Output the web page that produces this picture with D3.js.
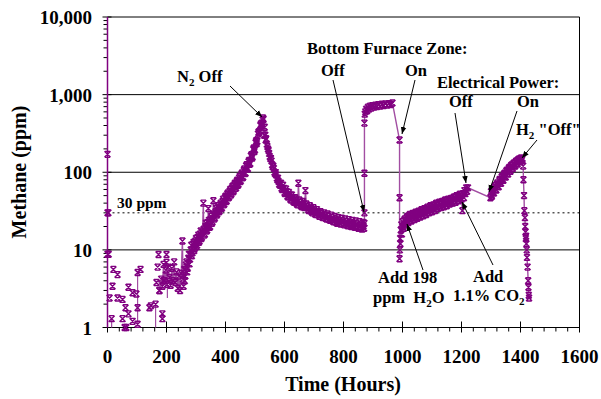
<!DOCTYPE html>
<html>
<head>
<meta charset="utf-8">
<script src="https://cdn.jsdelivr.net/npm/d3@7"></script>
<style>
  body { margin: 0; background: #fff; }
  svg { display: block; }
  text { font-family: "Liberation Serif", "Times New Roman", serif; font-weight: bold; fill: #000; }
</style>
</head>
<body>
<svg id="chart" width="601" height="399"></svg>
<script>
// DATA (hours, ppm)
const yTicks = [1, 10, 100, 1000, 10000];
const yTickLabels = ["1", "10", "100", "1,000", "10,000"];
const xTicks = [0, 200, 400, 600, 800, 1000, 1200, 1400, 1600];

// t = 0 readings run up the axis
const startup = [[0, 1], [0, 8.8], [0, 30], [0, 170], [0, 10000]];

// scattered low readings in the first 200 hours
const early = [[3, 30], [4, 8.8], [7, 2.4], [14, 1.3], [20, 5.6], [34, 4.8], [17, 3.4], [34, 2.4],
  [51, 2.3], [61, 1.8], [71, 1.5], [58, 1.0], [71, 3.3], [85, 2.8], [98, 2.7], [102, 5.1],
  [112, 5.6], [102, 1.8], [102, 1.1], [51, 1.3], [85, 1.2], [64, 1.0], [142, 1.8], [147, 1.9],
  [163, 2.0], [186, 1.5], [186, 1.3], [173, 8.7], [200, 8.7], [176, 3.0], [190, 4.0], [200, 6.9],
  [166, 3.8], [170, 6.0]];
const earlyLinks = [[14, 1.0, 1.3], [102, 1.1, 5.1], [163, 1.0, 2.0], [203, 2.4, 3.6]];

const ramp = [[176, 3.0], [182, 4.2], [186, 3.4], [190, 6.5], [194, 4.0], [198, 5.5], [202, 3.6],
  [206, 6.0], [210, 4.4], [214, 3.5], [218, 5.8], [222, 4.0], [226, 7.0], [230, 3.8], [234, 5.2],
  [238, 3.2], [242, 4.6], [246, 3.0], [250, 5.0], [254, 13], [256, 4.2], [258, 3.4], [260, 5.6],
  [262, 4.0], [264, 4.6], [266, 6.4], [268, 7.0], [270, 5.2], [272, 5.8], [274, 7.8], [276, 8.8],
  [278, 6.6], [280, 7.6], [282, 10], [284, 11.5], [286, 8.4], [288, 9.2], [290, 11.8], [292, 12.5],
  [294, 9.8], [296, 10.5], [298, 13], [300, 14], [302, 11], [304, 11.5], [306, 14.5], [308, 15.5],
  [310, 12.5], [312, 13], [314, 16], [316, 17.5], [318, 14], [320, 14.5], [322, 17], [325, 40],
  [326, 18.5], [328, 15.5], [330, 16], [332, 20], [334, 22], [336, 17.5], [338, 18], [340, 22.5],
  [342, 34], [344, 24], [346, 19.5], [348, 20], [350, 25], [352, 27], [354, 22], [356, 23],
  [358, 28], [359, 43], [360, 29], [362, 25], [364, 26], [366, 31], [368, 34], [370, 28], [372, 29],
  [374, 35], [376, 37], [378, 31], [380, 32], [382, 38], [384, 40], [386, 34], [388, 35], [390, 42],
  [392, 45], [394, 38], [396, 39], [398, 47], [400, 49], [402, 42], [404, 43], [406, 52], [408, 54],
  [410, 47], [412, 48], [414, 57], [416, 60], [418, 51], [420, 53], [422, 63], [424, 66], [426, 56],
  [428, 58], [430, 69], [432, 72], [434, 62], [436, 63], [438, 76], [440, 79], [442, 68], [444, 70],
  [446, 84], [448, 88], [450, 76], [452, 78], [454, 94], [456, 98], [458, 85], [460, 87], [462, 105],
  [464, 110], [466, 96], [468, 98], [470, 120], [472, 125], [474, 110], [476, 112], [478, 137],
  [480, 142], [482, 127], [484, 130], [486, 162], [488, 168], [490, 152], [492, 158], [494, 196],
  [496, 205], [498, 185], [500, 195], [502, 240], [504, 255], [506, 235], [508, 250], [510, 310],
  [512, 330], [514, 320], [516, 340], [518, 400], [520, 420], [522, 400], [524, 430], [526, 470],
  [527, 500]];

const decay = [[529, 480], [531, 300], [533, 380], [535, 300], [536, 260], [538, 270], [540, 230],
  [542, 215], [544, 200], [546, 190], [548, 175], [550, 160], [552, 150], [554, 150], [556, 140],
  [558, 125], [560, 118], [562, 120], [564, 112], [566, 100], [568, 96], [570, 99], [572, 92],
  [574, 84], [576, 80], [578, 84], [580, 76], [582, 70], [585, 68], [588, 72], [590, 62], [592, 60],
  [595, 68], [598, 62], [600, 55], [602, 53], [605, 61], [608, 56], [610, 49], [612, 48], [615, 55],
  [618, 51], [620, 45], [622, 44], [625, 51], [628, 47], [630, 42], [633, 41], [636, 47], [639, 44],
  [642, 39], [645, 38], [647, 72], [650, 44], [653, 41], [656, 37], [659, 36], [662, 42], [665, 39],
  [668, 35], [671, 58], [674, 39], [677, 36], [680, 33], [683, 32], [686, 37], [689, 34], [692, 31],
  [695, 30], [698, 35], [701, 33], [704, 29], [707, 28.5], [710, 33], [713, 31], [716, 28],
  [719, 27], [722, 31], [725, 29.5], [728, 26.5], [731, 26], [734, 30], [737, 28], [740, 25.5],
  [743, 25], [746, 29], [749, 27], [752, 24.5], [755, 24], [758, 28], [761, 26], [764, 23.5],
  [767, 23], [770, 27], [773, 25], [776, 22.5], [779, 22], [782, 26], [785, 24], [788, 22],
  [791, 21.5], [794, 25.5], [797, 23.5], [800, 21.5], [803, 21], [806, 25], [809, 23], [812, 21],
  [815, 20.5], [818, 24.5], [821, 22.5], [824, 20.5], [827, 20], [830, 24], [833, 22], [836, 20],
  [839, 19.5], [842, 23.5], [845, 21.5], [848, 19.5], [851, 19], [854, 23], [857, 21], [860, 19],
  [863, 18.5], [866, 22.5], [868, 20.5], [870, 19]];

// bottom furnace zone off / on
const furnace = [[871, 22], [871, 30], [871, 97], [871, 430], [872, 560], [874, 600], [877, 650],
  [880, 620], [883, 690], [886, 650], [890, 710], [894, 670], [898, 720], [903, 690], [908, 730],
  [913, 700], [918, 740], [924, 715], [930, 750], [936, 725], [942, 760], [948, 735], [954, 765],
  [960, 745], [966, 780], [990, 260], [990, 47], [990, 7.7]];

const recovery = [[991, 10], [992, 14], [993, 12], [994, 18], [996, 21], [998, 16], [1000, 23],
  [1002, 20], [1004, 19], [1006, 24], [1008, 25], [1010, 21.5], [1012, 21], [1014, 26], [1016, 27],
  [1018, 23], [1020, 22.5], [1022, 27.5], [1025, 28.5], [1028, 24], [1030, 23.5], [1033, 28.5],
  [1035, 29.5], [1038, 25], [1040, 24.5], [1043, 29.5], [1045, 30.5], [1048, 26], [1050, 25.5],
  [1053, 30.5], [1055, 31.5], [1058, 27], [1060, 26.5], [1063, 32], [1065, 33], [1068, 28],
  [1070, 27.5], [1073, 33], [1075, 34], [1078, 29], [1080, 28.5], [1083, 34.5], [1085, 35.5],
  [1088, 30.5], [1090, 30], [1093, 36], [1095, 37], [1098, 31.5], [1100, 31], [1103, 37],
  [1105, 38], [1108, 32.5], [1110, 32], [1113, 39], [1115, 40], [1118, 34.5], [1120, 34],
  [1123, 40], [1125, 41], [1128, 35.5], [1130, 35], [1133, 41], [1135, 42], [1138, 36.5],
  [1140, 36], [1143, 43], [1145, 44], [1148, 37.5], [1150, 37], [1153, 44], [1155, 45], [1158, 39.5],
  [1160, 39], [1163, 45], [1165, 46], [1168, 40.5], [1170, 40], [1173, 47], [1175, 48], [1178, 41.5],
  [1180, 41], [1183, 49], [1185, 50], [1188, 43.5], [1190, 43], [1193, 51], [1195, 52], [1198, 45.5],
  [1200, 45], [1203, 32], [1205, 53], [1208, 47], [1210, 58], [1213, 53], [1216, 63], [1219, 57],
  [1222, 63]];

// electrical power off / on, then H2 "off"
const power = [[1298, 47], [1300, 56], [1302, 51], [1303, 49], [1305, 58], [1306, 61], [1308, 55],
  [1310, 54], [1312, 64], [1314, 67], [1316, 60], [1318, 59], [1320, 70], [1322, 73], [1324, 66],
  [1326, 65], [1328, 78], [1330, 81], [1332, 73], [1334, 72], [1336, 86], [1338, 89], [1340, 80],
  [1342, 79], [1344, 94], [1346, 97], [1348, 88], [1350, 87], [1352, 103], [1354, 106], [1356, 96],
  [1358, 95], [1360, 112], [1362, 115], [1364, 104], [1366, 103], [1368, 121], [1370, 124],
  [1372, 113], [1374, 112], [1376, 129], [1378, 132], [1380, 121], [1382, 120], [1384, 137],
  [1386, 140], [1388, 129], [1390, 128], [1392, 144], [1394, 147], [1396, 137], [1398, 136],
  [1400, 150], [1402, 153], [1404, 144], [1405, 143], [1407, 150], [1409, 120], [1410, 80],
  [1412, 50], [1413, 32], [1415, 26], [1416, 20], [1417, 17], [1418, 14], [1419, 15], [1420, 12],
  [1421, 10], [1422, 8], [1424, 6], [1426, 4], [1427, 3.3], [1428, 2.6], [1429, 2.4]];

const mainSeries = [...ramp, ...decay, ...furnace, ...recovery, ...power];

// LAYOUT
const svg = d3.select("#chart");
const plotL = 107.5, plotR = 579.5, plotT = 17, plotB = 327.5;
const x = d3.scaleLinear().domain([0, 1600]).range([plotL, plotR]);
const y = d3.scaleLog().domain([1, 10000]).range([plotB, plotT]);
const purple = "#800080";
const linePurple = "#a24ea2";

// gridlines + frame
svg.append("g").selectAll("line").data([10, 100, 1000, 10000]).join("line")
  .attr("x1", plotL).attr("x2", plotR)
  .attr("y1", d => y(d)).attr("y2", d => y(d))
  .attr("stroke", "#000").attr("stroke-width", 1);
svg.append("line").attr("x1", plotR).attr("x2", plotR).attr("y1", plotT).attr("y2", plotB)
  .attr("stroke", "#000");

// 30 ppm dotted line
svg.append("line").attr("x1", plotL).attr("x2", plotR)
  .attr("y1", y(30)).attr("y2", y(30))
  .attr("stroke", "#000").attr("stroke-dasharray", "2,3");
svg.append("text").attr("x", 117).attr("y", 208).attr("font-size", 15.5).text("30 ppm");

// axes
const yMinor = [];
for (let d = 1; d < 10000; d *= 10) for (let k = 2; k <= 9; k++) yMinor.push(d * k);
svg.append("g").selectAll("line").data(yMinor).join("line")
  .attr("x1", plotL - 4).attr("x2", plotL)
  .attr("y1", d => y(d)).attr("y2", d => y(d)).attr("stroke", "#000");
svg.append("g").selectAll("line").data(yTicks).join("line")
  .attr("x1", plotL - 5).attr("x2", plotL + 4)
  .attr("y1", d => y(d)).attr("y2", d => y(d)).attr("stroke", "#000");
svg.append("g").selectAll("text").data(yTicks).join("text")
  .attr("x", 92).attr("y", d => y(d) + 7).attr("text-anchor", "end").attr("font-size", 19)
  .text((d, i) => yTickLabels[i]);

svg.append("g").selectAll("line").data(d3.range(0, 1601, 40)).join("line")
  .attr("x1", d => x(d)).attr("x2", d => x(d))
  .attr("y1", plotB).attr("y2", plotB + 4).attr("stroke", "#000");
svg.append("g").selectAll("line").data(xTicks).join("line")
  .attr("x1", d => x(d)).attr("x2", d => x(d))
  .attr("y1", plotB - 6).attr("y2", plotB + 5).attr("stroke", "#000");
svg.append("g").selectAll("text").data(xTicks).join("text")
  .attr("x", d => x(d)).attr("y", 363).attr("text-anchor", "middle").attr("font-size", 19)
  .text(d => d);

svg.append("line").attr("x1", plotL).attr("x2", plotR).attr("y1", plotB).attr("y2", plotB)
  .attr("stroke", "#000");
svg.append("line").attr("x1", plotL).attr("x2", plotL).attr("y1", plotT).attr("y2", plotB)
  .attr("stroke", "#000");

svg.append("text").attr("x", 343).attr("y", 391).attr("text-anchor", "middle")
  .attr("font-size", 20).text("Time (Hours)");
svg.append("text").attr("transform", "translate(26,172) rotate(-90)")
  .attr("text-anchor", "middle").attr("font-size", 20).text("Methane (ppm)");

// SERIES
const line = d3.line().x(d => x(d[0])).y(d => y(d[1]));
const plot = svg.append("g");
plot.append("path").datum(startup).attr("d", line)
  .attr("fill", "none").attr("stroke", purple).attr("stroke-width", 1.5);
plot.append("g").selectAll("line").data(earlyLinks).join("line")
  .attr("x1", d => x(d[0])).attr("x2", d => x(d[0]))
  .attr("y1", d => y(d[1])).attr("y2", d => y(d[2]))
  .attr("stroke", linePurple).attr("stroke-width", 1.2);
plot.append("path").datum(mainSeries).attr("d", line)
  .attr("fill", "none").attr("stroke", linePurple).attr("stroke-width", 1.4);

const star = "M-3,-3L3,3M-3,3L3,-3M-2.5,-3H2.5M-2.5,3H2.5";
plot.append("g").selectAll("path")
  .data([...startup.slice(1, 4), ...early, ...mainSeries]).join("path")
  .attr("transform", d => `translate(${x(d[0])},${y(d[1])})`)
  .attr("d", star).attr("fill", "none").attr("stroke", purple).attr("stroke-width", 1.4);

// ANNOTATIONS
svg.append("defs").append("marker").attr("id", "arr")
  .attr("viewBox", "0 0 10 10").attr("refX", 10).attr("refY", 5)
  .attr("markerWidth", 7).attr("markerHeight", 7).attr("orient", "auto")
  .attr("markerUnits", "userSpaceOnUse")
  .append("path").attr("d", "M0,1L10,5L0,9Z").attr("fill", "#000");

const arrows = [
  [230, 86, 262, 117], [333, 80, 364, 212], [415, 80, 402, 134],
  [455, 113, 466, 183], [517, 111, 489, 192], [537, 140, 522, 158],
  [423, 270, 407, 224], [493, 265, 462, 202]
];
svg.append("g").selectAll("line").data(arrows).join("line")
  .attr("x1", d => d[0]).attr("y1", d => d[1]).attr("x2", d => d[2]).attr("y2", d => d[3])
  .attr("stroke", "#000").attr("stroke-width", 1).attr("marker-end", "url(#arr)");

// text with optional subscripts: strings are normal runs, {sub} objects are subscripts
function label(xp, yp, parts) {
  const t = svg.append("text").attr("x", xp).attr("y", yp).attr("font-size", 16.5)
    .style("white-space", "pre");
  let lowered = false;
  parts.forEach(p => {
    if (typeof p === "string") {
      t.append("tspan").attr("dy", lowered ? -4 : 0).text(p);
      lowered = false;
    } else {
      t.append("tspan").attr("font-size", 11).attr("dy", 4).text(p.sub);
      lowered = true;
    }
  });
  return t;
}
label(177, 82, ["N", { sub: "2" }, " Off"]);
label(307, 54, ["Bottom Furnace Zone:"]);
label(321, 76, ["Off"]);
label(405, 76, ["On"]);
label(437, 88, ["Electrical Power:"]);
label(449, 107, ["Off"]);
label(517, 107, ["On"]);
label(516, 135, ["H", { sub: "2" }, " \"Off\""]);
label(378, 283, ["Add 198"]);
label(373, 303, ["ppm  H", { sub: "2" }, "O"]);
label(473, 282, ["Add"]);
label(453, 301, ["1.1% CO", { sub: "2" }]);
</script>
</body>
</html>
